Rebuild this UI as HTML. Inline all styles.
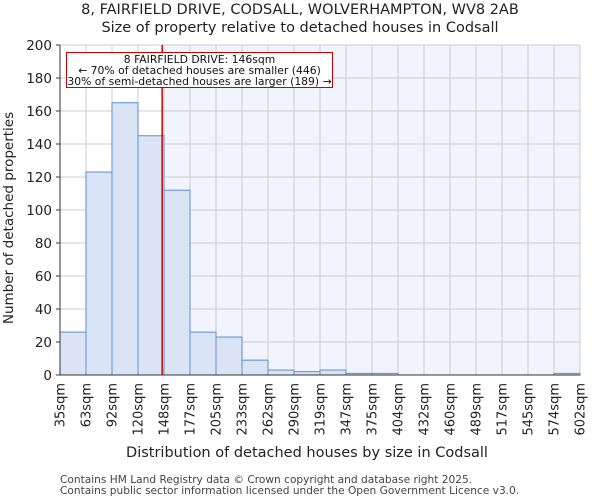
<!DOCTYPE html>
<html><head><meta charset="utf-8"><style>
body{margin:0;background:#fff;font-family:"DejaVu Sans","Liberation Sans",sans-serif;}
</style></head><body>
<svg id="chart" width="600" height="500" xmlns="http://www.w3.org/2000/svg" font-family="DejaVu Sans, Liberation Sans, sans-serif"></svg>
<script>
const binLabels=["35sqm","63sqm","92sqm","120sqm","148sqm","177sqm","205sqm","233sqm","262sqm","290sqm","319sqm","347sqm","375sqm","404sqm","432sqm","460sqm","489sqm","517sqm","545sqm","574sqm","602sqm"];
const counts=[26,123,165,145,112,26,23,9,3,2,3,1,1,0,0,0,0,0,0,1];
const yTicks=[0,20,40,60,80,100,120,140,160,180,200];
const markerValue=146;
const binEdges=[35,63,92,120,148,177,205,233,262,290,319,347,375,404,432,460,489,517,545,574,602];

const svg=document.getElementById('chart');
const NS='http://www.w3.org/2000/svg';
const L=60,R=580,T=45,B=375;
const n=counts.length, bw=(R-L)/n;
const y=v=>B-(v/200)*(B-T);
const xi=i=>L+i*bw;
function xv(v){for(let i=0;i<binEdges.length-1;i++){if(v>=binEdges[i]&&v<=binEdges[i+1])return xi(i)+bw*(v-binEdges[i])/(binEdges[i+1]-binEdges[i]);}return R;}
function mk(tag,attrs,parent){const e=document.createElementNS(NS,tag);for(const k in attrs)e.setAttribute(k,attrs[k]);(parent||svg).appendChild(e);return e;}
const mx=xv(markerValue);
let e;
e=mk('rect',{x:L,y:T,width:mx-L,height:B-T,fill:'#ffffff'});


e=mk('rect',{x:mx,y:T,width:R-mx,height:B-T,fill:'#f1f4fc'});


for(let i=0;i<=n;i++){e=mk('line',{x1:xi(i),x2:xi(i),y1:T,y2:B,stroke:'#cccccc','stroke-width':1});

}
yTicks.forEach(t=>{e=mk('line',{x1:L,x2:R,y1:y(t),y2:y(t),stroke:'#cccccc','stroke-width':1});


e=mk('line',{x1:L-4,x2:L,y1:y(t),y2:y(t),stroke:'#333'});


e=mk('text',{x:L-8,y:y(t)+5,'text-anchor':'end','font-size':13.5,fill:'#222'});e.textContent=t;

});
counts.forEach((c,i)=>{e=mk('rect',{x:xi(i),y:y(c),width:bw,height:B-y(c),fill:'#dae4f4',stroke:'#5a8ed4','stroke-width':1});

});
binLabels.forEach((lb,i)=>{const xx=xi(i);
e=mk('text',{x:xx+4.5,y:B+8,'text-anchor':'end','font-size':13,fill:'#222',transform:`rotate(-90 ${xx+4.5} ${B+8})`});e.textContent=lb;

});
e=mk('line',{x1:L,x2:L,y1:T,y2:B,stroke:'#333'});


e=mk('line',{x1:L,x2:R,y1:B,y2:B,stroke:'#333'});


e=mk('line',{x1:mx,x2:mx,y1:T,y2:B,stroke:'#cc0000','stroke-width':1.5});


const g=mk('g',{});


mk('rect',{x:66.5,y:52.5,width:266,height:35,fill:'#fff',stroke:'#cc0000','stroke-width':1},g);
[["8 FAIRFIELD DRIVE: 146sqm",63],["← 70% of detached houses are smaller (446)",74],["30% of semi-detached houses are larger (189) →",85]].forEach(([t,yy])=>{
e=mk('text',{x:199.5,y:yy,'text-anchor':'middle','font-size':10.8,fill:'#111'},g);e.textContent=t;

});
e=mk('text',{x:300,y:14,'text-anchor':'middle','font-size':14.5,fill:'#222'});e.textContent='8, FAIRFIELD DRIVE, CODSALL, WOLVERHAMPTON, WV8 2AB';


e=mk('text',{x:300,y:32,'text-anchor':'middle','font-size':14.5,fill:'#222'});e.textContent='Size of property relative to detached houses in Codsall';


e=mk('text',{x:307,y:457,'text-anchor':'middle','font-size':14.5,fill:'#222'});e.textContent='Distribution of detached houses by size in Codsall';


e=mk('text',{x:13,y:218,'text-anchor':'middle','font-size':13.5,fill:'#222',transform:'rotate(-90 13 218)'});e.textContent='Number of detached properties';


e=mk('text',{x:60,y:483,'font-size':10.6,fill:'#444'});e.textContent='Contains HM Land Registry data © Crown copyright and database right 2025.';


e=mk('text',{x:60,y:494,'font-size':10.6,fill:'#444'});e.textContent='Contains public sector information licensed under the Open Government Licence v3.0.';


</script>
</body></html>
